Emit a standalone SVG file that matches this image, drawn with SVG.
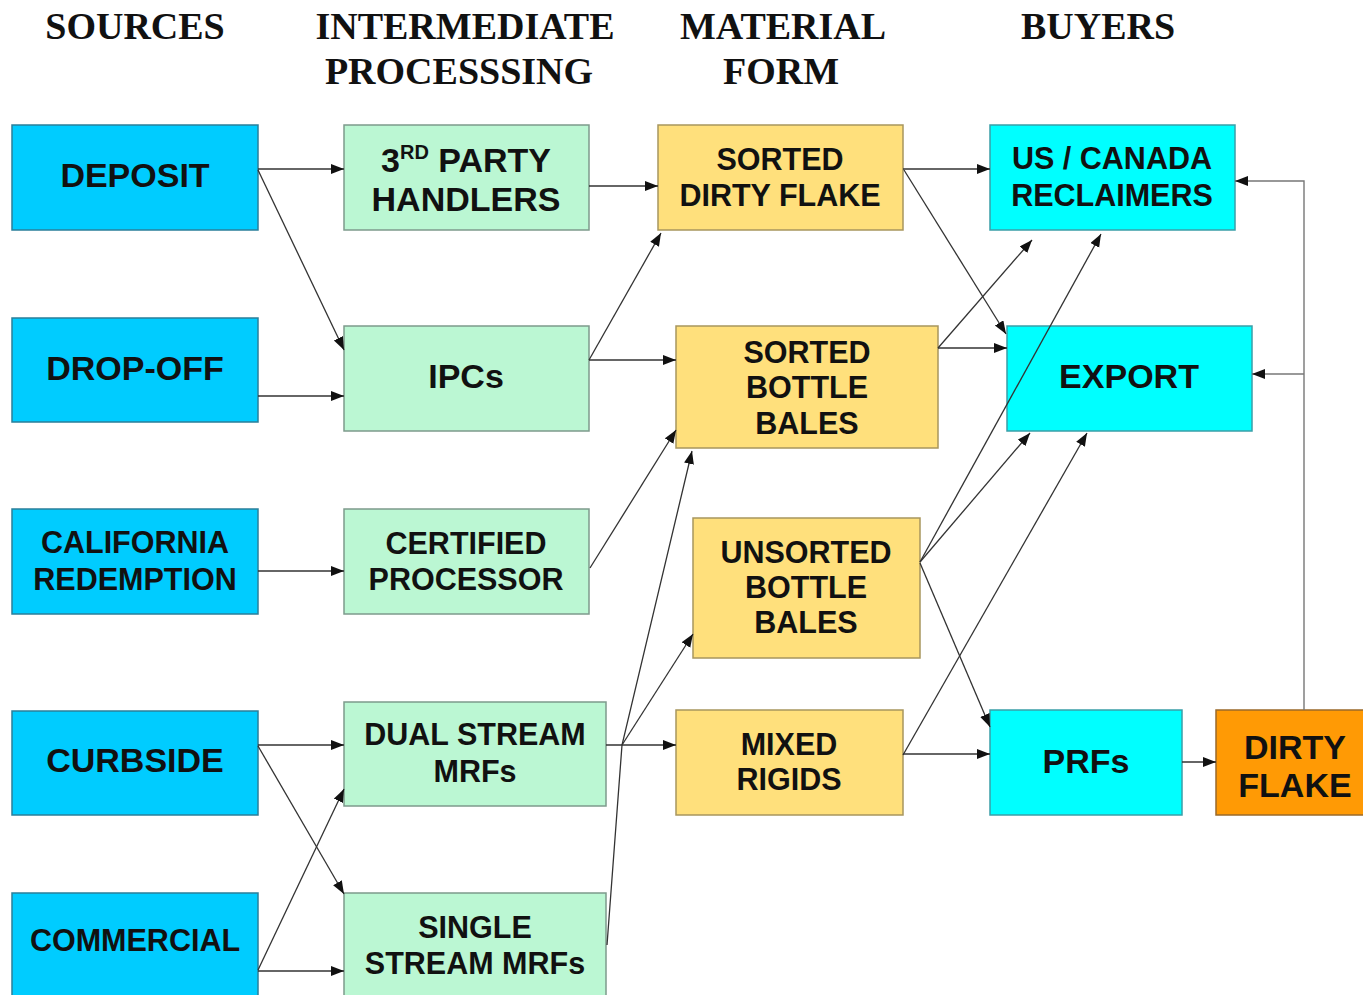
<svg xmlns="http://www.w3.org/2000/svg" width="1363" height="995" viewBox="0 0 1363 995">
  <style>
    .hdr { font-family: "Liberation Serif", "Times New Roman", serif; font-weight: bold; font-size: 38px; fill: #111; text-anchor: middle; }
    .lbl { font-family: "Liberation Sans", Arial, sans-serif; font-weight: bold; fill: #111; text-anchor: middle; }
    .big { font-size: 34px; }
    .sm { font-size: 30.5px; }
    .src { fill: #00CCFF; stroke: #2a7f9a; stroke-width: 1.5; }
    .mid { fill: #BBF7D3; stroke: #7e9a8c; stroke-width: 1.5; }
    .mat { fill: #FFE07C; stroke: #a8965e; stroke-width: 1.5; }
    .buy { fill: #00FFFF; stroke: #3a9fa8; stroke-width: 1.5; }
    .org { fill: #FF9A05; stroke: #9a6a2a; stroke-width: 1.5; }
    .ln { fill: none; stroke: #333; stroke-width: 1.3; }
    .arr { marker-end: url(#ah); }
    .loop { fill: none; stroke: #777; stroke-width: 1.4; }
  </style>
  <defs>
    <marker id="ah" markerUnits="userSpaceOnUse" markerWidth="14" markerHeight="12" refX="13" refY="5" orient="auto">
      <path d="M0,0 L13,5 L0,10 z" fill="#111"/>
    </marker>
  </defs>
  <rect width="1363" height="995" fill="#fff"/>

  <!-- column headings -->
  <g id="headings">
    <text class="hdr" x="135" y="39">SOURCES</text>
    <text class="hdr" x="465" y="39">INTERMEDIATE</text>
    <text class="hdr" x="459" y="84">PROCESSSING</text>
    <text class="hdr" x="783" y="39">MATERIAL</text>
    <text class="hdr" x="781" y="84">FORM</text>
    <text class="hdr" x="1098" y="39">BUYERS</text>
  </g>

  <!-- sources -->
  <g id="deposit">
    <rect class="src" x="12" y="125" width="246" height="105"/>
    <text class="lbl big" x="135" y="187">DEPOSIT</text>
  </g>
  <g id="drop-off">
    <rect class="src" x="12" y="318" width="246" height="104"/>
    <text class="lbl big" x="135" y="380">DROP-OFF</text>
  </g>
  <g id="california-redemption">
    <rect class="src" x="12" y="509" width="246" height="105"/>
    <text class="lbl sm" x="135" y="553">CALIFORNIA</text>
    <text class="lbl sm" x="135" y="590">REDEMPTION</text>
  </g>
  <g id="curbside">
    <rect class="src" x="12" y="711" width="246" height="104"/>
    <text class="lbl big" x="135" y="772">CURBSIDE</text>
  </g>
  <g id="commercial">
    <rect class="src" x="12" y="893" width="246" height="110"/>
    <text class="lbl sm" x="135" y="951">COMMERCIAL</text>
  </g>

  <!-- intermediate processing -->
  <g id="third-party-handlers">
    <rect class="mid" x="344" y="125" width="245" height="105"/>
    <text class="lbl big" x="466" y="172">3<tspan font-size="20" dy="-13">RD</tspan><tspan dy="13"> PARTY</tspan></text>
    <text class="lbl big" x="466" y="211">HANDLERS</text>
  </g>
  <g id="ipcs">
    <rect class="mid" x="344" y="326" width="245" height="105"/>
    <text class="lbl big" x="466" y="388">IPCs</text>
  </g>
  <g id="certified-processor">
    <rect class="mid" x="344" y="509" width="245" height="105"/>
    <text class="lbl sm" x="466" y="554">CERTIFIED</text>
    <text class="lbl sm" x="466" y="590">PROCESSOR</text>
  </g>
  <g id="dual-stream-mrfs">
    <rect class="mid" x="344" y="702" width="262" height="104"/>
    <text class="lbl sm" x="475" y="745">DUAL STREAM</text>
    <text class="lbl sm" x="475" y="782">MRFs</text>
  </g>
  <g id="single-stream-mrfs">
    <rect class="mid" x="344" y="893" width="262" height="110"/>
    <text class="lbl sm" x="475" y="938">SINGLE</text>
    <text class="lbl sm" x="475" y="974">STREAM MRFs</text>
  </g>

  <!-- material form -->
  <g id="sorted-dirty-flake">
    <rect class="mat" x="658" y="125" width="245" height="105"/>
    <text class="lbl sm" x="780" y="170">SORTED</text>
    <text class="lbl sm" x="780" y="206">DIRTY FLAKE</text>
  </g>
  <g id="sorted-bottle-bales">
    <rect class="mat" x="676" y="326" width="262" height="122"/>
    <text class="lbl sm" x="807" y="363">SORTED</text>
    <text class="lbl sm" x="807" y="398">BOTTLE</text>
    <text class="lbl sm" x="807" y="434">BALES</text>
  </g>
  <g id="unsorted-bottle-bales">
    <rect class="mat" x="693" y="518" width="227" height="140"/>
    <text class="lbl sm" x="806" y="563">UNSORTED</text>
    <text class="lbl sm" x="806" y="598">BOTTLE</text>
    <text class="lbl sm" x="806" y="633">BALES</text>
  </g>
  <g id="mixed-rigids">
    <rect class="mat" x="676" y="710" width="227" height="105"/>
    <text class="lbl sm" x="789" y="755">MIXED</text>
    <text class="lbl sm" x="789" y="790">RIGIDS</text>
  </g>

  <!-- buyers -->
  <g id="us-canada-reclaimers">
    <rect class="buy" x="990" y="125" width="245" height="105"/>
    <text class="lbl sm" x="1112" y="169">US / CANADA</text>
    <text class="lbl sm" x="1112" y="206">RECLAIMERS</text>
  </g>
  <g id="export">
    <rect class="buy" x="1007" y="326" width="245" height="105"/>
    <text class="lbl big" x="1129" y="388">EXPORT</text>
  </g>
  <g id="prfs">
    <rect class="buy" x="990" y="710" width="192" height="105"/>
    <text class="lbl big" x="1086" y="773">PRFs</text>
  </g>
  <g id="dirty-flake">
    <rect class="org" x="1216" y="710" width="160" height="105"/>
    <text class="lbl big" x="1295" y="759">DIRTY</text>
    <text class="lbl big" x="1295" y="797">FLAKE</text>
  </g>

  <!-- connectors, drawn over the boxes -->
  <g id="connectors">
    <!-- sources to processing -->
    <path class="ln arr" d="M258,169 L344,169"/>
    <path class="ln arr" d="M258,170 L344,350"/>
    <path class="ln arr" d="M258,396 L344,396"/>
    <path class="ln arr" d="M258,571 L344,571"/>
    <path class="ln arr" d="M258,745 L344,745"/>
    <path class="ln arr" d="M258,746 L344,894"/>
    <path class="ln arr" d="M258,970 L344,789"/>
    <path class="ln arr" d="M258,971 L344,971"/>
    <!-- processing to material form -->
    <path class="ln arr" d="M589,186 L658,186"/>
    <path class="ln arr" d="M589,360 L661,233"/>
    <path class="ln arr" d="M589,360 L676,360"/>
    <path class="ln arr" d="M590,568 L676,430"/>
    <path class="ln arr" d="M607,945 L622,745 L692,451"/>
    <path class="ln arr" d="M606,745 L676,745"/>
    <path class="ln arr" d="M622,745 L693,634"/>
    <!-- material form to buyers -->
    <path class="ln arr" d="M903,169 L990,169"/>
    <path class="ln arr" d="M904,170 L1006,334"/>
    <path class="ln arr" d="M938,348 L1032,240"/>
    <path class="ln arr" d="M938,348 L1007,348"/>
    <path class="ln arr" d="M920,562 L1101,234"/>
    <path class="ln arr" d="M920,562 L1030,433"/>
    <path class="ln arr" d="M920,563 L990,727"/>
    <path class="ln arr" d="M903,755 L1087,433"/>
    <path class="ln arr" d="M903,754 L990,754"/>
    <path class="ln arr" d="M1182,762 L1216,762"/>
    <!-- dirty flake back to buyers -->
    <path class="loop arr" d="M1304,710 L1304,181 L1235,181"/>
    <path class="loop arr" d="M1304,374 L1252,374"/>
  </g>
</svg>
